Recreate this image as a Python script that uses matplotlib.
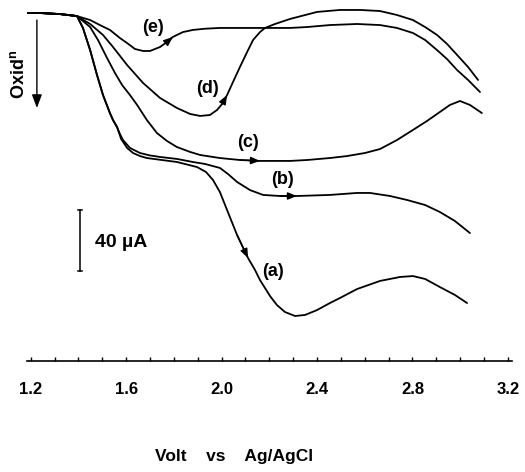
import numpy as np
import matplotlib
matplotlib.use("Agg")
import matplotlib.pyplot as plt

plt.rcParams['font.family'] = ['Liberation Sans', 'DejaVu Sans']
plt.rcParams['mathtext.fontset'] = 'custom'
plt.rcParams['mathtext.rm'] = 'Liberation Sans'
plt.rcParams['mathtext.bf'] = 'Liberation Sans:bold'

# ---- data (Volt vs Ag/AgCl, current in uA; oxidation plotted downward) ----
start_v = [1.172, 1.239, 1.323, 1.394]
start_i = [0.0, 0.0, -0.7, -2.0]

a_v = start_v + [1.419, 1.449, 1.478, 1.503, 1.532, 1.545, 1.562, 1.579, 1.604, 1.629, 1.658, 1.687,
                 1.813, 1.897, 1.935, 1.964, 1.993, 2.023, 2.065, 2.111, 2.140, 2.161, 2.203, 2.232,
                 2.266, 2.308, 2.350, 2.400, 2.454, 2.496, 2.568, 2.664, 2.748, 2.802, 2.853, 2.915,
                 2.978, 3.029]
a_i = start_i + [-9.8, -24.3, -40.7, -53.8, -65.6, -70.2, -74.8, -82.6, -88.5, -91.8, -93.8, -95.1,
                 -97.7, -101.0, -104.3, -109.5, -117.4, -129.2, -145.6, -160.7, -168.5, -175.1, -185.6, -191.5,
                 -196.1, -198.7, -198.0, -194.8, -190.2, -186.9, -181.0, -175.7, -173.1, -172.5, -174.4, -179.7,
                 -184.9, -190.2]

b_v = start_v + [1.419, 1.449, 1.478, 1.503, 1.532, 1.545, 1.562, 1.574, 1.587, 1.616, 1.658, 1.700,
                 1.742, 1.813, 1.880, 1.931, 1.993, 2.027, 2.065, 2.119, 2.174, 2.245, 2.316, 2.454,
                 2.568, 2.622, 2.706, 2.777, 2.853, 2.915, 2.978, 3.041]
b_i = start_i + [-9.8, -24.3, -40.7, -53.8, -65.6, -70.2, -74.8, -79.4, -83.3, -88.5, -91.8, -93.4,
                 -94.4, -95.7, -97.7, -99.0, -101.6, -105.6, -110.8, -116.1, -119.3, -120.0, -120.0, -119.3,
                 -118.0, -118.0, -120.0, -122.6, -125.9, -130.5, -136.4, -144.3]

c_v = start_v + [1.449, 1.482, 1.520, 1.553, 1.583, 1.616, 1.646, 1.687, 1.729, 1.771, 1.813, 1.868,
                 1.910, 1.993, 2.077, 2.161, 2.287, 2.358, 2.454, 2.526, 2.601, 2.664, 2.735, 2.802,
                 2.861, 2.915, 2.957, 2.999, 3.041, 3.091]
c_i = start_i + [-9.2, -17.7, -29.5, -39.3, -47.2, -53.8, -60.3, -70.2, -78.7, -83.9, -87.9, -91.1,
                 -93.1, -95.1, -96.4, -97.0, -97.0, -96.4, -95.1, -93.8, -91.8, -89.2, -83.3, -76.7,
                 -70.8, -64.9, -60.3, -57.7, -60.3, -65.6]

d_v = start_v + [1.449, 1.503, 1.545, 1.604, 1.671, 1.742, 1.813, 1.868, 1.910, 1.951, 1.981, 2.002,
                 2.023, 2.048, 2.077, 2.107, 2.132, 2.161, 2.182, 2.224, 2.287, 2.400, 2.496, 2.580,
                 2.664, 2.735, 2.802, 2.853, 2.903, 2.945, 2.987, 3.033, 3.075]
d_i = start_i + [-7.2, -14.4, -22.3, -34.1, -45.9, -55.7, -62.3, -66.2, -67.5, -66.9, -63.6, -59.7,
                 -53.8, -45.2, -35.4, -25.6, -17.7, -12.5, -9.8, -7.2, -3.9, 0.7, 2.0, 2.0,
                 1.3, -1.3, -4.6, -9.2, -14.4, -20.3, -27.5, -35.4, -43.9]

e_v = start_v + [1.449, 1.490, 1.532, 1.574, 1.604, 1.637, 1.671, 1.700, 1.742, 1.771, 1.796, 1.838,
                 1.880, 1.931, 1.993, 2.182, 2.287, 2.358, 2.454, 2.568, 2.664, 2.735, 2.802, 2.853,
                 2.903, 2.945, 2.987, 3.033, 3.083]
e_i = start_i + [-4.6, -7.9, -11.1, -16.4, -19.7, -23.6, -24.9, -24.9, -22.3, -19.0, -15.7, -12.5,
                 -11.1, -10.3, -9.8, -9.8, -9.8, -9.2, -7.9, -7.2, -7.9, -9.8, -13.1, -17.7,
                 -24.3, -30.2, -37.4, -43.9, -51.8]

curve_names = ['(a)', '(b)', '(c)', '(d)', '(e)']
# voltage at which each curve carries its direction arrow
arrow_at_v = [2.111, 2.316, 2.161, 2.023, 1.796]
label_v = [2.216, 2.257, 2.111, 1.939, 1.713]
label_i = [-169.8, -109.5, -85.2, -49.2, -9.2]

x_ticks_major = [1.2, 1.6, 2.0, 2.4, 2.8, 3.2]
x_tick_labels = ['1.2', '1.6', '2.0', '2.4', '2.8', '3.2']
x_ticks_minor = [round(1.2 + 0.1 * k, 1) for k in range(21)]

scale_bar_uA = 40
scale_bar_top = -129.2
scale_bar_v = 1.407

# ---- figure ----
fig = plt.figure(figsize=(5.25, 4.72), dpi=100)
ax = fig.add_axes([27 / 525, 1 - 361 / 472, 485 / 525, 356 / 472])
ax.set_xlim(1.1845, 3.2172)
ax.set_ylim(-228.2, 5.25)

curves = [(a_v, a_i), (b_v, b_i), (c_v, c_i), (d_v, d_i), (e_v, e_i)]
for (vv, ii), av, name, lv, li in zip(curves, arrow_at_v, curve_names, label_v, label_i):
    ax.plot(vv, ii, color='black', lw=1.3, solid_capstyle='round', solid_joinstyle='round')
    k = vv.index(av)
    ax.annotate('', xy=(vv[k], ii[k]), xytext=(vv[k - 1], ii[k - 1]),
                arrowprops=dict(arrowstyle='-|>,head_length=0.55,head_width=0.22', color='black',
                                lw=1.0, shrinkA=0, shrinkB=0))
    ax.text(lv, li, name, ha='center', va='center', fontsize=13, fontweight='bold')

# scale bar
bar_bottom = scale_bar_top - scale_bar_uA
ax.plot([scale_bar_v, scale_bar_v], [scale_bar_top, bar_bottom], color='black', lw=1.1)
for yy in (scale_bar_top, bar_bottom):
    ax.plot([scale_bar_v - 0.01, scale_bar_v + 0.01], [yy, yy], color='black', lw=1.1)
ax.text(scale_bar_v + 0.063, (scale_bar_top + bar_bottom) / 2 - 1, '40 µA', ha='left', va='center',
        fontsize=14, fontweight='bold')

# oxidation direction arrow
ax.annotate('', xy=(1.226, -62.3), xytext=(1.226, -4.6),
            arrowprops=dict(arrowstyle='-|>,head_length=0.8,head_width=0.3', color='black', lw=1.0,
                            shrinkA=0, shrinkB=0), annotation_clip=False)
fig.text(19 / 525, 1 - 74 / 472, r'$\mathbf{Oxid^{n}}$', rotation=90, ha='center', va='center',
         fontsize=13)

# axes styling
for s in ['top', 'right', 'left']:
    ax.spines[s].set_visible(False)
ax.spines['bottom'].set_linewidth(1.2)
ax.set_yticks([])
ax.set_xticks(x_ticks_major)
ax.set_xticklabels(x_tick_labels, fontsize=12, fontweight='bold')
ax.set_xticks(x_ticks_minor, minor=True)
ax.tick_params(axis='x', which='both', direction='in', length=3, width=1, pad=15)
ax.patch.set_alpha(0)

fig.text(234 / 525, 1 - 457 / 472, 'Volt    vs    Ag/AgCl', ha='center', va='center',
         fontsize=12.5, fontweight='bold')

fig.savefig('out.png', dpi=100)
